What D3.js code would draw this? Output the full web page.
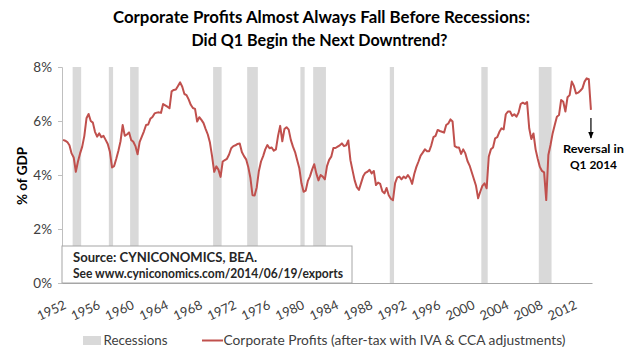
<!DOCTYPE html>
<html>
<head>
<meta charset="utf-8">
<script src="https://cdn.jsdelivr.net/npm/d3@7"></script>
<style>
  html, body { margin: 0; padding: 0; background: #fff; }
  svg { display: block; }
</style>
</head>
<body>
<svg id="chart" width="640" height="359"></svg>
<script>
// ---------------- DATA ----------------
const startYear = 1952;
// Corporate profits (after-tax with IVA & CCA adjustments), % of GDP, quarterly
const profits = [
  5.30, 5.27, 5.22, 5.10,   // 1952
  4.80, 4.65, 4.12, 4.50,   // 1953
  4.80, 5.05, 5.45, 6.10,   // 1954
  6.26, 6.00, 5.94, 5.60,   // 1955
  5.42, 5.54, 5.40, 5.45,   // 1956
  5.30, 5.15, 4.86, 4.28,   // 1957
  4.33, 4.60, 4.90, 5.25,   // 1958
  5.85, 5.45, 5.50, 5.58,   // 1959
  5.30, 5.23, 5.07, 4.77,   // 1960
  5.23, 5.42, 5.62, 5.85,   // 1961
  5.87, 6.08, 6.15, 6.28,   // 1962
  6.31, 6.32, 6.30, 6.63,   // 1963
  6.58, 6.53, 6.47, 7.10,   // 1964
  7.15, 7.17, 7.30, 7.43,   // 1965
  7.27, 7.00, 6.96, 6.80,   // 1966
  6.60, 6.48, 6.45, 5.98,   // 1967
  6.14, 6.04, 5.92, 5.70,   // 1968
  5.50, 5.20, 4.70, 4.12,   // 1969
  4.32, 4.20, 3.93, 4.50,   // 1970
  4.55, 4.60, 4.76, 4.99,   // 1971
  5.07, 5.10, 5.15, 5.17,   // 1972
  4.85, 4.70, 4.58, 4.30,   // 1973
  3.90, 3.25, 3.24, 3.55,   // 1974
  4.15, 4.50, 4.70, 4.95,   // 1975
  5.11, 4.99, 5.02, 4.90,   // 1976
  4.95, 5.45, 5.82, 5.25,   // 1977
  5.70, 5.77, 5.68, 5.30,   // 1978
  5.05, 4.85, 4.55, 4.25,   // 1979
  3.69, 3.38, 3.42, 3.78,   // 1980
  3.95, 4.20, 4.40, 4.05,   // 1981
  3.80, 4.00, 3.94, 3.84,   // 1982
  4.33, 4.56, 4.68, 5.00,   // 1983
  5.00, 5.05, 5.10, 5.17,   // 1984
  5.07, 5.10, 5.28, 4.55,   // 1985
  4.17, 3.80, 3.55, 3.45,   // 1986
  3.70, 3.95, 4.08, 4.12,   // 1987
  4.19, 4.06, 4.15, 3.63,   // 1988
  3.72, 3.67, 3.40, 3.32,   // 1989
  3.52, 3.25, 3.12, 3.07,   // 1990
  3.70, 3.91, 3.94, 3.84,   // 1991
  3.94, 3.88, 4.00, 3.88,   // 1992
  3.67, 4.04, 4.30, 4.50,   // 1993
  4.72, 4.83, 4.95, 4.88,   // 1994
  4.88, 5.10, 5.40, 5.45,   // 1995
  5.67, 5.63, 5.60, 5.57,   // 1996
  5.85, 5.91, 6.06, 5.98,   // 1997
  5.07, 5.02, 5.02, 4.78,   // 1998
  4.95, 4.80, 4.52, 4.35,   // 1999
  4.10, 3.85, 3.60, 3.14,   // 2000
  3.38, 3.60, 3.69, 3.51,   // 2001
  4.68, 4.95, 5.02, 5.36,   // 2002
  5.40, 5.60, 5.73, 5.69,   // 2003
  6.25, 6.35, 6.35, 6.19,   // 2004
  6.25, 6.16, 6.31, 6.63,   // 2005
  6.68, 6.63, 6.70, 5.73,   // 2006
  5.33, 5.54, 4.95, 4.60,   // 2007
  4.30, 4.15, 4.10, 3.07,   // 2008
  4.74, 5.11, 5.54, 5.85,   // 2009
  6.16, 6.22, 6.78, 6.71,   // 2010
  6.35, 6.88, 6.96, 7.46,   // 2011
  7.30, 7.02, 7.05, 7.12,   // 2012
  7.21, 7.46, 7.58, 7.55,   // 2013
  6.41                      // 2014
];
// Recession quarters (first, last) as shaded
const recessions = [
  ["1953Q2", "1954Q1"],
  ["1957Q3", "1957Q4"],
  ["1960Q1", "1960Q4"],
  ["1969Q4", "1970Q3"],
  ["1973Q4", "1974Q4"],
  ["1980Q1", "1980Q2"],
  ["1981Q3", "1982Q4"],
  ["1990Q3", "1990Q4"],
  ["2001Q2", "2001Q4"],
  ["2008Q1", "2009Q2"]
];
const tickYears = [1952, 1956, 1960, 1964, 1968, 1972, 1976, 1980, 1984, 1988, 1992, 1996, 2000, 2004, 2008, 2012];
const yTicks = [0, 2, 4, 6, 8];
const titleLines = ["Corporate Profits Almost Always Fall Before Recessions:", "Did Q1 Begin the Next Downtrend?"];
const sourceLines = ["Source: CYNICONOMICS, BEA.", "See www.cyniconomics.com/2014/06/19/exports"];
const annotationLines = ["Reversal in", "Q1 2014"];
const legendLabels = ["Recessions", "Corporate Profits (after-tax with IVA & CCA adjustments)"];
const yAxisTitle = "% of GDP";

// ---------------- BUILD ----------------
(function () {
const quarters = profits.map((v, i) => (startYear + Math.floor(i / 4)) + "Q" + (i % 4 + 1));
const series = quarters.map((q, i) => ({ q, v: profits[i] }));

const FONT = "Lato, 'Open Sans', sans-serif";
const svg = d3.select("#chart");

const pLeft = 62, pRight = 592, pTop = 67, pBottom = 283;

const x = d3.scaleBand().domain(quarters).range([pLeft, pRight]).padding(0);
const y = d3.scaleLinear().domain([0, 8]).range([pBottom, pTop]);
const bw = x.bandwidth();

// Recession bands
svg.append("g").selectAll("rect")
  .data(recessions)
  .join("rect")
  .attr("x", d => x(d[0]))
  .attr("width", d => x(d[1]) + bw - x(d[0]))
  .attr("y", y(8))
  .attr("height", y(0) - y(8))
  .attr("fill", "#d9d9d9");

// Y axis
const yAxis = d3.axisLeft(y).tickValues(yTicks).tickFormat(d => d + "%").tickSize(4).tickPadding(6);
const gy = svg.append("g").attr("transform", `translate(${pLeft},0)`).call(yAxis);
gy.select(".domain").attr("stroke", "#bfbfbf");
gy.selectAll(".tick line").attr("stroke", "#bfbfbf");
gy.selectAll(".tick text")
  .attr("font-family", FONT).attr("font-size", 13.5).attr("fill", "#404040");

// Source box
svg.append("rect")
  .attr("x", pLeft).attr("y", 246).attr("width", 290).attr("height", pBottom - 246)
  .attr("fill", "#fff").attr("stroke", "#a6a6a6").attr("stroke-width", 1);
const srcWidths = [184, 270];
sourceLines.forEach((t, i) => {
  svg.append("text")
    .attr("x", 73).attr("y", 262 + i * 15.5)
    .attr("font-family", FONT).attr("font-weight", "bold").attr("font-size", 12.5)
    .attr("fill", "#262626")
    .attr("textLength", srcWidths[i]).attr("lengthAdjust", "spacingAndGlyphs")
    .text(t);
});

// X axis
const xAxis = d3.axisBottom(x)
  .tickValues(tickYears.map(yr => yr + "Q1"))
  .tickFormat(d => d.slice(0, 4))
  .tickSize(0);
const gx = svg.append("g").attr("transform", `translate(0,${pBottom})`).call(xAxis);
gx.select(".domain").attr("stroke", "#a6a6a6");
gx.selectAll(".tick text")
  .attr("font-family", FONT).attr("font-size", 13).attr("fill", "#404040")
  .attr("text-anchor", "end")
  .attr("dy", null).attr("y", null)
  .attr("transform", "translate(4,25) rotate(-25)");

// Line
const line = d3.line()
  .x(d => x(d.q) + bw / 2)
  .y(d => y(d.v));
svg.append("path")
  .datum(series)
  .attr("d", line)
  .attr("fill", "none")
  .attr("stroke", "#c0504d")
  .attr("stroke-width", 2)
  .attr("stroke-linejoin", "round");

// Y axis title
svg.append("text")
  .attr("transform", "translate(27,176) rotate(-90)")
  .attr("text-anchor", "middle")
  .attr("font-family", FONT).attr("font-weight", "bold").attr("font-size", 13.5)
  .attr("fill", "#000")
  .text(yAxisTitle);

// Title
const titleX = [321.5, 319.5], titleY = [23, 46], titleW = [417, 256];
titleLines.forEach((t, i) => {
  svg.append("text")
    .attr("x", titleX[i]).attr("y", titleY[i])
    .attr("text-anchor", "middle")
    .attr("font-family", FONT).attr("font-weight", "bold").attr("font-size", 17)
    .attr("fill", "#000")
    .attr("textLength", titleW[i]).attr("lengthAdjust", "spacingAndGlyphs")
    .text(t);
});

// Annotation arrow + text
const last = series[series.length - 1];
const ax = x(last.q) + bw / 2;
svg.append("defs").append("marker")
  .attr("id", "arrow").attr("viewBox", "0 0 10 10")
  .attr("refX", 9).attr("refY", 5)
  .attr("markerWidth", 6).attr("markerHeight", 6)
  .attr("orient", "auto")
  .append("path").attr("d", "M0,1 L10,5 L0,9 z").attr("fill", "#000");
svg.append("line")
  .attr("x1", ax).attr("x2", ax)
  .attr("y1", 118).attr("y2", 138)
  .attr("stroke", "#000").attr("stroke-width", 1.2)
  .attr("marker-end", "url(#arrow)");
const annW = [61, 47], annY = [153, 169];
annotationLines.forEach((t, i) => {
  svg.append("text")
    .attr("x", 593.5).attr("y", annY[i])
    .attr("text-anchor", "middle")
    .attr("font-family", FONT).attr("font-weight", "bold").attr("font-size", 12)
    .attr("fill", "#000")
    .attr("textLength", annW[i]).attr("lengthAdjust", "spacingAndGlyphs")
    .text(t);
});

// Legend
const lg = svg.append("g");
lg.append("rect").attr("x", 83).attr("y", 336).attr("width", 18).attr("height", 9).attr("fill", "#d9d9d9");
lg.append("text").attr("x", 103.5).attr("y", 345)
  .attr("font-family", FONT).attr("font-size", 13).attr("fill", "#404040")
  .attr("textLength", 64).attr("lengthAdjust", "spacingAndGlyphs")
  .text(legendLabels[0]);
lg.append("line").attr("x1", 202).attr("x2", 223).attr("y1", 340.5).attr("y2", 340.5)
  .attr("stroke", "#c0504d").attr("stroke-width", 2);
lg.append("text").attr("x", 223.5).attr("y", 345)
  .attr("font-family", FONT).attr("font-size", 13).attr("fill", "#404040")
  .attr("textLength", 342).attr("lengthAdjust", "spacingAndGlyphs")
  .text(legendLabels[1]);
})();
</script>
</body>
</html>
